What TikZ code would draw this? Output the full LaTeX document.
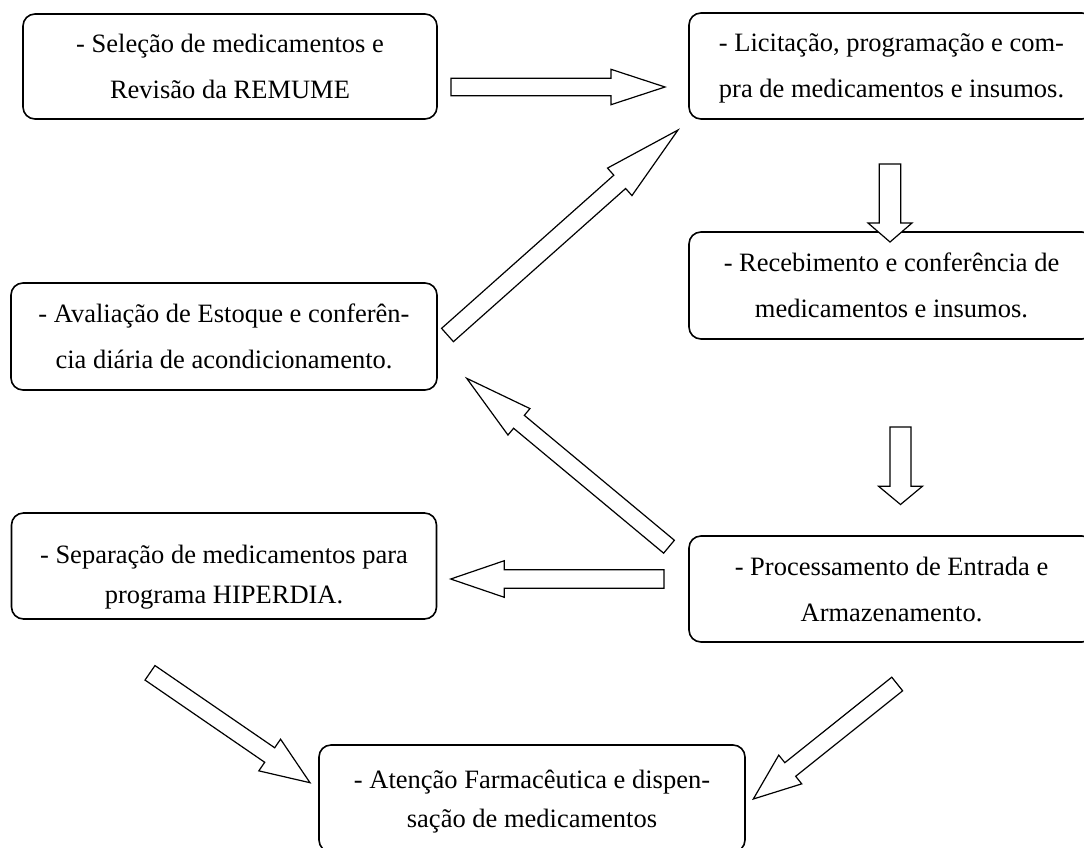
\documentclass[tikz,border=0pt]{standalone}
\usepackage{fontspec}
\setmainfont{Liberation Serif}
\usetikzlibrary{calc}

\tikzset{
  stage/.style={draw, line width=1.6pt, rounded corners=12pt, align=center, inner sep=0pt, text depth=0pt},
  hollow/.style={draw, line width=1.2pt, fill=white}
}
% block arrow: tail, tip, half shaft, half head, head length
\newcommand{\hollowarrow}[5]{%
  \coordinate (hb) at ($(#2)!#5!(#1)$);
  \draw[hollow] ($(#1)!#3!90:(#2)$) -- ($(hb)!#3!-90:(#1)$) -- ($(hb)!#4!-90:(#1)$) -- (#2)
    -- ($(hb)!#4!90:(#1)$) -- ($(hb)!#3!90:(#1)$) -- ($(#1)!#3!-90:(#2)$) -- cycle;}

\begin{document}
\begin{tikzpicture}[x=1pt,y=-1pt,font=\fontsize{26.5}{46}\selectfont]
\useasboundingbox (0,0) rectangle (1084,847);
\clip (0,0) rectangle (1084,847);

\node[stage, minimum width=414pt, minimum height=105pt] (sel) at (230,66.5) {- Seleção de medicamentos e\\Revisão da REMUME};
\node[stage, minimum width=405pt, minimum height=106pt] (lic) at (891.5,66) {- Licitação, programação e com-\\pra de medicamentos e insumos.};
\node[stage, minimum width=405pt, minimum height=107pt] (rec) at (891.5,285.5) {- Recebimento e conferência de\\medicamentos e insumos.};
\node[stage, minimum width=426pt, minimum height=107pt] (ava) at (224,336.5) {- Avaliação de Estoque e conferên-\\cia diária de acondicionamento.};
\node[stage, minimum width=425pt, minimum height=106pt, font=\fontsize{26.5}{40}\selectfont] (sep) at (224,566) {\rule{0pt}{34pt}- Separação de medicamentos para\\programa HIPERDIA.};
\node[stage, minimum width=405pt, minimum height=106pt] (proc) at (891.5,589) {- Processamento de Entrada e\\Armazenamento.};
\node[stage, minimum width=426pt, minimum height=107pt, font=\fontsize{26.5}{39}\selectfont] (aten) at (532,798.5) {- Atenção Farmacêutica e dispen-\\sação de medicamentos};

% arrow ends
\coordinate (sel-out) at (451,87);      \coordinate (lic-in) at (665,87);
\coordinate (lic-out) at (890,164);     \coordinate (rec-in) at (890,242);
\coordinate (rec-out) at (900.5,427);   \coordinate (proc-in) at (900.5,504.5);
\coordinate (ava-out) at (447.5,335);   \coordinate (lic-in2) at (678,130);
\coordinate (proc-out) at (669,546.7);  \coordinate (ava-in) at (466.7,378.3);
\coordinate (proc-out2) at (664,579);   \coordinate (sep-in) at (450.7,579);
\coordinate (sep-out) at (150,672.8);   \coordinate (aten-in) at (310,782.7);
\coordinate (proc-out3) at (897.2,684); \coordinate (aten-in2) at (753.3,799);

\hollowarrow{sel-out}{lic-in}{8.7pt}{17.7pt}{54pt}
\hollowarrow{lic-out}{rec-in}{10.8pt}{22pt}{19pt}
\hollowarrow{rec-out}{proc-in}{10.5pt}{22pt}{18.3pt}
\hollowarrow{ava-out}{lic-in2}{8.9pt}{18.4pt}{78pt}
\hollowarrow{proc-out}{ava-in}{8.4pt}{17.2pt}{68pt}
\hollowarrow{proc-out2}{sep-in}{9.2pt}{18.3pt}{53.6pt}
\hollowarrow{sep-out}{aten-in}{8.8pt}{19.2pt}{48.9pt}
\hollowarrow{proc-out3}{aten-in2}{8.7pt}{18.4pt}{47.3pt}
\end{tikzpicture}
\end{document}
